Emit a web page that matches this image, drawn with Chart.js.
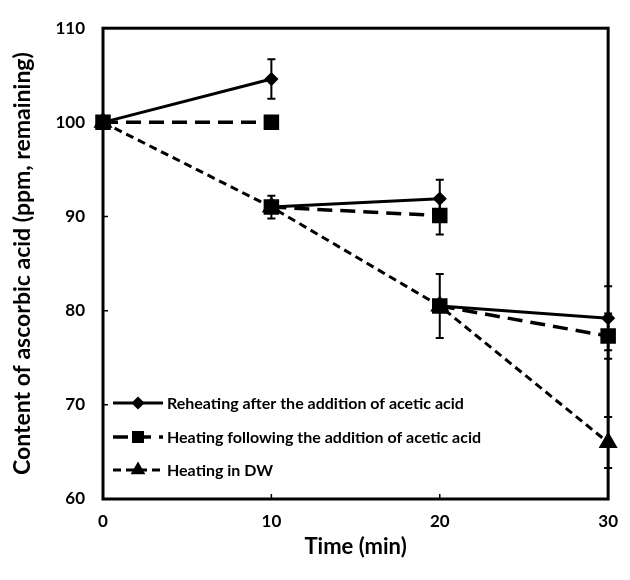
<!DOCTYPE html>
<html>
<head>
<meta charset="utf-8">
<script src="https://cdn.jsdelivr.net/npm/chart.js@4.4.1/dist/chart.umd.min.js"></script>
<style>
  html, body { margin: 0; padding: 0; background: #fff; }
  #wrap { width: 630px; height: 580px; }
</style>
</head>
<body>
<div id="wrap"><canvas id="lineChart" width="630" height="580"></canvas></div>
<script>
// Time points (min)
const times = [0, 10, 20, 30];

// Heating in DW (continuous series)
const dwValues = [100, 91, 80.5, 66];
const dwErr = [0, 1.2, 3.4, 2.7];

// Each segment starts from the DW value at the previous time point
const reheatValues = [104.6, 91.9, 79.2];   // at 10, 20, 30
const reheatErr = [2.1, 2.0, 3.4];
const followValues = [100, 90.1, 77.3];     // at 10, 20, 30
const followErr = [0, 2.0, 2.4];

const xTicks = [0, 10, 20, 30];
const yTicks = [60, 70, 80, 90, 100, 110];

const legendLabels = [
  "Reheating after the addition of acetic acid",
  "Heating following the addition of acetic acid",
  "Heating in DW"
];

// build segmented data (null point breaks the line)
function segments(ends) {
  const pts = [];
  for (let i = 0; i < ends.length; i++) {
    pts.push({ x: times[i], y: dwValues[i] });
    pts.push({ x: times[i + 1], y: ends[i] });
    pts.push({ x: times[i + 1], y: null });
  }
  return pts;
}

const FONT = "Lato, 'Open Sans', sans-serif";

// frame, inward ticks, error bars and legend
const decorPlugin = {
  id: "decor",
  afterDatasetsDraw(chart) {
    const ctx = chart.ctx;
    const a = chart.chartArea;
    const xs = chart.scales.x, ys = chart.scales.y;
    ctx.save();
    ctx.strokeStyle = "#000";

    // error bars
    ctx.lineWidth = 2;
    const bar = (x, y, e) => {
      if (!e) return;
      const px = xs.getPixelForValue(x);
      const top = ys.getPixelForValue(y + e), bot = ys.getPixelForValue(y - e);
      ctx.beginPath();
      ctx.moveTo(px, top); ctx.lineTo(px, bot);
      ctx.moveTo(px - 4, top); ctx.lineTo(px + 4, top);
      ctx.moveTo(px - 4, bot); ctx.lineTo(px + 4, bot);
      ctx.stroke();
    };
    times.forEach((t, i) => bar(t, dwValues[i], dwErr[i]));
    reheatValues.forEach((v, i) => bar(times[i + 1], v, reheatErr[i]));
    followValues.forEach((v, i) => bar(times[i + 1], v, followErr[i]));

    // frame
    ctx.lineWidth = 3;
    ctx.strokeRect(a.left, a.top, a.right - a.left, a.bottom - a.top);

    // inward tick marks
    ctx.lineWidth = 1.5;
    ctx.beginPath();
    yTicks.forEach(v => {
      const py = ys.getPixelForValue(v);
      ctx.moveTo(a.left, py); ctx.lineTo(a.left + 5, py);
    });
    xTicks.forEach(v => {
      const px = xs.getPixelForValue(v);
      ctx.moveTo(px, a.bottom); ctx.lineTo(px, a.bottom - 5);
    });
    ctx.stroke();

    // legend inside plot area, bottom-left
    const rows = [403, 437, 470];
    const legendRadius = [4.5, 6, 5.5];
    ctx.font = "bold 16px " + FONT;
    ctx.fillStyle = "#000";
    ctx.textBaseline = "middle";
    chart.data.datasets.forEach((ds, i) => {
      const y = rows[i];
      const x0 = a.left + 10, x1 = a.left + 60;
      ctx.lineWidth = ds.borderWidth;
      ctx.setLineDash(ds.borderDash || []);
      ctx.beginPath();
      ctx.moveTo(x0, y); ctx.lineTo(x1, y);
      ctx.stroke();
      ctx.setLineDash([]);
      Chart.helpers.drawPoint(ctx, {
        pointStyle: ds.pointStyle,
        radius: legendRadius[i],
        borderWidth: 1
      }, (x0 + x1) / 2, y);
      ctx.fillText(legendLabels[i], x1 + 4, y + 1);
    });
    ctx.restore();
  }
};

const ctx = document.getElementById("lineChart").getContext("2d");
new Chart(ctx, {
  type: "line",
  data: {
    datasets: [
      {
        label: legendLabels[0],
        data: segments(reheatValues),
        borderColor: "#000",
        backgroundColor: "#000",
        borderWidth: 3,
        pointStyle: "rectRot",
        pointRadius: 5,
        spanGaps: false,
        clip: false
      },
      {
        label: legendLabels[1],
        data: segments(followValues),
        borderColor: "#000",
        backgroundColor: "#000",
        borderWidth: 3.5,
        borderDash: [15, 8],
        pointStyle: "rect",
        pointRadius: 8.5,
        spanGaps: false,
        clip: false
      },
      {
        label: legendLabels[2],
        data: times.map((t, i) => ({ x: t, y: dwValues[i] })),
        borderColor: "#000",
        backgroundColor: "#000",
        borderWidth: 3,
        borderDash: [8, 5],
        pointStyle: "triangle",
        pointRadius: 8,
        clip: false
      }
    ]
  },
  options: {
    responsive: false,
    animation: false,
    layout: { padding: { left: 0, right: 13, top: 20, bottom: 0 } },
    plugins: {
      legend: { display: false },
      tooltip: { enabled: false }
    },
    scales: {
      x: {
        type: "linear",
        min: 0, max: 30,
        afterBuildTicks: s => { s.ticks = xTicks.map(v => ({ value: v })); },
        afterFit: s => { s.height = 81; },
        grid: { display: false, drawTicks: false },
        border: { display: false },
        ticks: { color: "#000", padding: 12, font: { family: FONT, size: 17, weight: "bold" } },
        title: {
          display: true, text: "Time (min)", color: "#000",
          padding: { top: 0, bottom: 20 },
          font: { family: FONT, size: 22, weight: "bold" }
        }
      },
      y: {
        min: 60, max: 110,
        afterBuildTicks: s => { s.ticks = yTicks.map(v => ({ value: v })); },
        afterFit: s => { s.width = 103; },
        grid: { display: false, drawTicks: false },
        border: { display: false },
        ticks: { color: "#000", padding: 18, font: { family: FONT, size: 17, weight: "bold" } },
        title: {
          display: true, text: "Content of ascorbic acid (ppm, remaining)", color: "#000",
          padding: { bottom: 0, top: 9 },
          font: { family: FONT, size: 23, weight: "bold" }
        }
      }
    }
  },
  plugins: [decorPlugin]
});
</script>
</body>
</html>
